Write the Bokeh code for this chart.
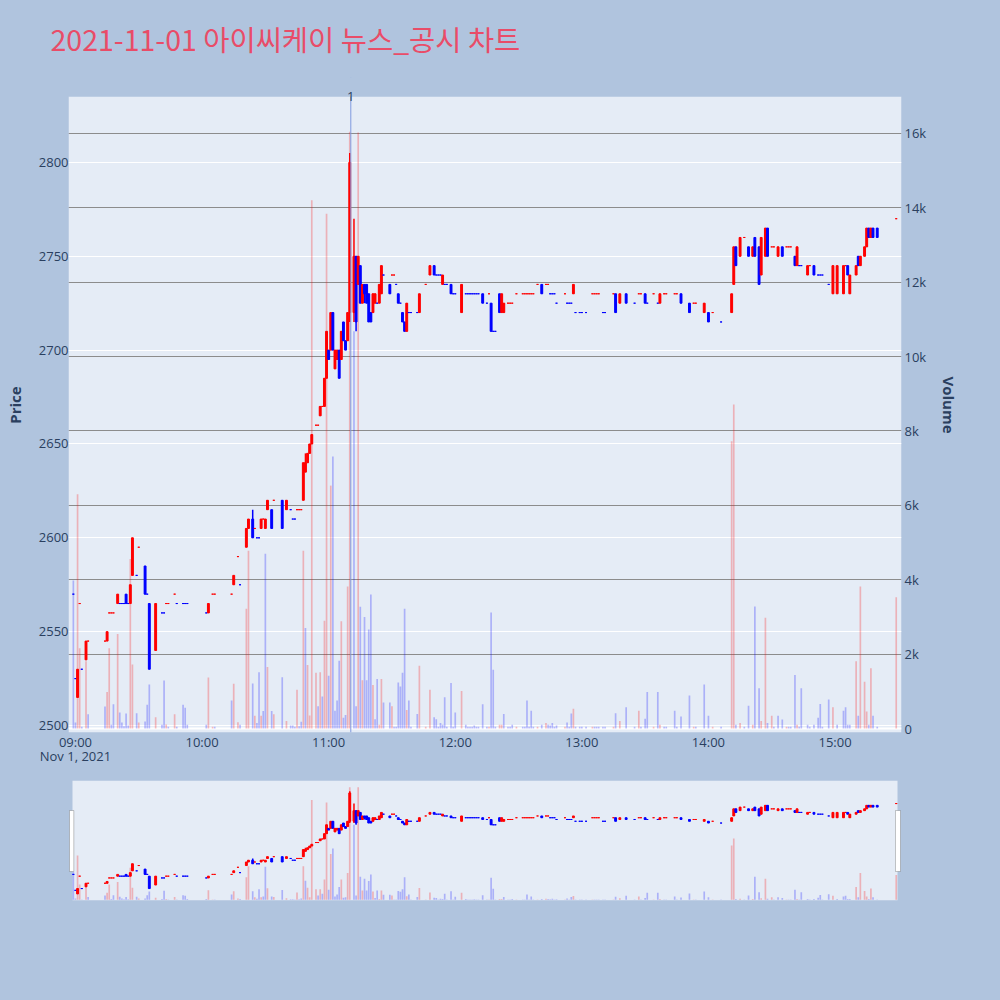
import pandas as pd
from bokeh.plotting import figure
from bokeh.models import (ColumnDataSource, Range1d, LinearAxis, FixedTicker, Grid,
                          Span, Label, BoxAnnotation, GlobalInlineStyleSheet)
from bokeh.layouts import column
from bokeh.embed import file_html
from bokeh.resources import INLINE

# ---------------- data ----------------
DATE = "2021-11-01"
TITLE = "2021-11-01 아이씨케이 뉴스_공시 차트"
DATE_LABEL = "Nov 1, 2021"
NEWS_TIME = "11:10:30"
NEWS_LABEL = "1"

x_tick_labels = ["09:00", "10:00", "11:00", "12:00", "13:00", "14:00", "15:00"]
price_ticks = [2500, 2550, 2600, 2650, 2700, 2750, 2800]
volume_ticks = [0, 2000, 4000, 6000, 8000, 10000, 12000, 14000, 16000]
volume_tick_labels = ["0", "2k", "4k", "6k", "8k", "10k", "12k", "14k", "16k"]

time = [
    "08:59", "09:00", "09:01", "09:02", "09:03", "09:05", "09:06", "09:14", "09:15", "09:16",
    "09:17", "09:18", "09:20", "09:21", "09:22", "09:23", "09:24", "09:25", "09:26", "09:27",
    "09:29", "09:30", "09:33", "09:34", "09:35", "09:38", "09:41", "09:42", "09:43", "09:44",
    "09:47", "09:48", "09:51", "09:52", "09:53", "10:02", "10:03", "10:05", "10:06", "10:14",
    "10:15", "10:17", "10:18", "10:21", "10:22", "10:24", "10:25", "10:26", "10:27", "10:28",
    "10:29", "10:30", "10:31", "10:33", "10:34", "10:38", "10:40", "10:42", "10:43", "10:44",
    "10:45", "10:46", "10:47", "10:48", "10:49", "10:50", "10:51", "10:52", "10:54", "10:55",
    "10:56", "10:57", "10:58", "10:59", "11:00", "11:01", "11:02", "11:03", "11:04", "11:05",
    "11:06", "11:07", "11:08", "11:09", "11:10", "11:12", "11:13", "11:14", "11:15", "11:16",
    "11:17", "11:18", "11:19", "11:20", "11:21", "11:22", "11:23", "11:24", "11:25", "11:26",
    "11:29", "11:30", "11:31", "11:32", "11:33", "11:34", "11:35", "11:36", "11:37", "11:38",
    "11:39", "11:42", "11:43", "11:46", "11:48", "11:50", "11:51", "11:52", "11:53", "11:54",
    "11:55", "11:56", "11:58", "11:59", "12:00", "12:03", "12:05", "12:06", "12:07", "12:08",
    "12:09", "12:10", "12:11", "12:13", "12:15", "12:16", "12:17", "12:18", "12:19", "12:21",
    "12:22", "12:23", "12:25", "12:26", "12:27", "12:29", "12:32", "12:33", "12:34", "12:35",
    "12:36", "12:37", "12:39", "12:41", "12:43", "12:44", "12:45", "12:46", "12:47", "12:48",
    "12:52", "12:53", "12:54", "12:55", "12:56", "12:57", "12:59", "13:00", "13:02", "13:05",
    "13:06", "13:07", "13:08", "13:10", "13:11", "13:15", "13:16", "13:18", "13:21", "13:25",
    "13:27", "13:28", "13:30", "13:31", "13:34", "13:36", "13:37", "13:39", "13:40", "13:44",
    "13:45", "13:47", "13:51", "13:53", "13:54", "13:58", "14:00", "14:02", "14:06", "14:11",
    "14:12", "14:13", "14:15", "14:17", "14:19", "14:21", "14:22", "14:24", "14:25", "14:27",
    "14:28", "14:30", "14:31", "14:33", "14:35", "14:37", "14:38", "14:39", "14:41", "14:42",
    "14:43", "14:44", "14:47", "14:48", "14:50", "14:52", "14:53", "14:54", "14:57", "14:59",
    "15:01", "15:04", "15:05", "15:06", "15:07", "15:10", "15:11", "15:12", "15:14", "15:15",
    "15:16", "15:17", "15:18", "15:20", "15:29",
]
open_ = [
    2570, 2525, 2515, 2565, 2530, 2535, 2545, 2545, 2545, 2560,
    2560, 2560, 2565, 2565, 2565, 2565, 2570, 2565, 2565, 2580,
    2580, 2595, 2585, 2570, 2565, 2540, 2560, 2560, 2565, 2565,
    2570, 2565, 2565, 2565, 2565, 2560, 2560, 2570, 2570, 2570,
    2575, 2590, 2575, 2595, 2605, 2610, 2605, 2600, 2600, 2605,
    2610, 2605, 2615, 2615, 2620, 2620, 2615, 2615, 2610, 2610,
    2615, 2615, 2615, 2620, 2635, 2640, 2645, 2650, 2660, 2660,
    2665, 2670, 2670, 2685, 2700, 2700, 2720, 2690, 2695, 2700,
    2695, 2715, 2705, 2705, 2720, 2720, 2750, 2735, 2745, 2725,
    2735, 2735, 2730, 2720, 2720, 2725, 2725, 2725, 2730, 2740,
    2735, 2740, 2740, 2735, 2730, 2725, 2720, 2715, 2710, 2720,
    2720, 2720, 2720, 2735, 2740, 2745, 2740, 2740, 2740, 2735,
    2735, 2735, 2735, 2730, 2730, 2720, 2730, 2730, 2730, 2730,
    2730, 2730, 2730, 2730, 2725, 2730, 2725, 2710, 2710, 2730,
    2720, 2720, 2725, 2725, 2725, 2730, 2730, 2730, 2730, 2730,
    2730, 2730, 2735, 2735, 2735, 2735, 2730, 2730, 2730, 2725,
    2730, 2725, 2725, 2725, 2730, 2720, 2720, 2720, 2720, 2730,
    2730, 2730, 2730, 2720, 2720, 2730, 2730, 2725, 2730, 2725,
    2730, 2730, 2730, 2725, 2730, 2725, 2725, 2730, 2730, 2730,
    2730, 2730, 2725, 2725, 2725, 2720, 2720, 2720, 2715, 2720,
    2735, 2755, 2750, 2760, 2755, 2750, 2760, 2755, 2740, 2750,
    2765, 2755, 2755, 2750, 2755, 2755, 2755, 2755, 2750, 2745,
    2745, 2745, 2740, 2745, 2745, 2740, 2740, 2740, 2735, 2730,
    2730, 2730, 2745, 2745, 2730, 2740, 2750, 2745, 2750, 2755,
    2765, 2760, 2765, 2765, 2770,
]
high = [
    2570, 2525, 2530, 2565, 2530, 2545, 2545, 2545, 2550, 2560,
    2560, 2560, 2570, 2565, 2565, 2565, 2570, 2565, 2575, 2600,
    2580, 2595, 2585, 2570, 2565, 2565, 2560, 2560, 2565, 2565,
    2570, 2565, 2565, 2565, 2565, 2560, 2565, 2570, 2570, 2570,
    2580, 2590, 2575, 2605, 2610, 2615, 2605, 2600, 2600, 2610,
    2610, 2610, 2620, 2615, 2620, 2620, 2620, 2615, 2610, 2610,
    2615, 2615, 2615, 2640, 2645, 2645, 2650, 2655, 2660, 2660,
    2670, 2670, 2685, 2710, 2700, 2720, 2720, 2700, 2700, 2700,
    2710, 2715, 2705, 2720, 2805, 2770, 2750, 2750, 2745, 2735,
    2735, 2735, 2730, 2720, 2730, 2730, 2725, 2735, 2745, 2740,
    2735, 2740, 2740, 2735, 2730, 2725, 2720, 2715, 2725, 2720,
    2720, 2720, 2730, 2735, 2745, 2745, 2740, 2740, 2740, 2740,
    2735, 2735, 2735, 2730, 2730, 2735, 2730, 2730, 2730, 2730,
    2730, 2730, 2730, 2730, 2725, 2730, 2725, 2710, 2710, 2730,
    2730, 2725, 2725, 2725, 2725, 2730, 2730, 2730, 2730, 2730,
    2730, 2730, 2735, 2735, 2735, 2735, 2730, 2730, 2730, 2725,
    2730, 2725, 2725, 2725, 2735, 2720, 2720, 2720, 2720, 2730,
    2730, 2730, 2730, 2720, 2720, 2730, 2730, 2730, 2730, 2725,
    2730, 2730, 2730, 2725, 2730, 2725, 2730, 2730, 2730, 2730,
    2730, 2730, 2725, 2725, 2725, 2725, 2720, 2720, 2715, 2730,
    2755, 2755, 2760, 2760, 2755, 2755, 2760, 2755, 2760, 2765,
    2765, 2755, 2755, 2755, 2755, 2755, 2755, 2755, 2750, 2755,
    2745, 2745, 2745, 2745, 2745, 2740, 2740, 2740, 2735, 2745,
    2745, 2745, 2745, 2745, 2740, 2745, 2750, 2750, 2755, 2765,
    2765, 2765, 2765, 2765, 2770,
]
low = [
    2570, 2525, 2515, 2565, 2530, 2535, 2545, 2545, 2545, 2560,
    2560, 2560, 2565, 2565, 2565, 2565, 2565, 2565, 2565, 2580,
    2580, 2595, 2570, 2570, 2530, 2540, 2560, 2560, 2565, 2565,
    2570, 2565, 2565, 2565, 2565, 2560, 2560, 2570, 2570, 2570,
    2575, 2590, 2575, 2595, 2605, 2600, 2605, 2600, 2600, 2605,
    2610, 2605, 2615, 2605, 2620, 2605, 2615, 2615, 2610, 2610,
    2615, 2615, 2615, 2620, 2635, 2640, 2645, 2650, 2660, 2660,
    2665, 2670, 2670, 2685, 2695, 2700, 2700, 2690, 2695, 2685,
    2695, 2705, 2700, 2705, 2715, 2715, 2710, 2735, 2725, 2725,
    2725, 2725, 2715, 2715, 2720, 2725, 2725, 2725, 2730, 2740,
    2730, 2740, 2740, 2735, 2725, 2725, 2715, 2710, 2710, 2720,
    2720, 2720, 2720, 2735, 2740, 2740, 2740, 2740, 2740, 2735,
    2735, 2735, 2730, 2730, 2730, 2720, 2730, 2730, 2730, 2730,
    2730, 2730, 2730, 2725, 2725, 2730, 2710, 2710, 2710, 2720,
    2720, 2720, 2725, 2725, 2725, 2730, 2730, 2730, 2730, 2730,
    2730, 2730, 2735, 2730, 2735, 2735, 2730, 2730, 2730, 2725,
    2730, 2725, 2725, 2725, 2730, 2720, 2720, 2720, 2720, 2730,
    2730, 2730, 2730, 2720, 2720, 2730, 2720, 2725, 2725, 2725,
    2730, 2730, 2725, 2725, 2730, 2725, 2725, 2730, 2730, 2730,
    2730, 2725, 2720, 2725, 2725, 2720, 2715, 2720, 2715, 2720,
    2735, 2745, 2750, 2760, 2750, 2750, 2750, 2735, 2740, 2750,
    2750, 2755, 2755, 2750, 2750, 2755, 2755, 2755, 2745, 2745,
    2745, 2745, 2740, 2745, 2740, 2740, 2740, 2740, 2735, 2730,
    2730, 2730, 2745, 2740, 2730, 2740, 2745, 2745, 2750, 2755,
    2760, 2760, 2760, 2760, 2770,
]
close = [
    2570, 2525, 2530, 2565, 2530, 2545, 2545, 2545, 2550, 2560,
    2560, 2560, 2570, 2565, 2565, 2565, 2565, 2565, 2575, 2600,
    2580, 2595, 2570, 2570, 2530, 2565, 2560, 2560, 2565, 2565,
    2570, 2565, 2565, 2565, 2565, 2560, 2565, 2570, 2570, 2570,
    2580, 2590, 2575, 2605, 2610, 2600, 2605, 2600, 2600, 2610,
    2610, 2610, 2620, 2605, 2620, 2605, 2620, 2615, 2610, 2610,
    2615, 2615, 2615, 2640, 2640, 2645, 2650, 2655, 2660, 2660,
    2670, 2670, 2685, 2710, 2695, 2720, 2700, 2700, 2700, 2685,
    2710, 2705, 2700, 2720, 2800, 2750, 2715, 2750, 2725, 2735,
    2730, 2725, 2715, 2715, 2730, 2730, 2725, 2735, 2745, 2740,
    2730, 2740, 2740, 2735, 2725, 2725, 2715, 2710, 2725, 2720,
    2720, 2720, 2730, 2735, 2745, 2740, 2740, 2740, 2740, 2740,
    2735, 2735, 2730, 2730, 2730, 2735, 2730, 2730, 2730, 2730,
    2730, 2730, 2730, 2725, 2725, 2730, 2710, 2710, 2710, 2720,
    2730, 2725, 2725, 2725, 2725, 2730, 2730, 2730, 2730, 2730,
    2730, 2730, 2735, 2730, 2735, 2735, 2730, 2730, 2730, 2725,
    2730, 2725, 2725, 2725, 2735, 2720, 2720, 2720, 2720, 2730,
    2730, 2730, 2730, 2720, 2720, 2730, 2720, 2730, 2725, 2725,
    2730, 2730, 2725, 2725, 2730, 2725, 2730, 2730, 2730, 2730,
    2730, 2725, 2720, 2725, 2725, 2725, 2715, 2720, 2715, 2730,
    2755, 2745, 2760, 2760, 2750, 2755, 2750, 2735, 2760, 2765,
    2750, 2755, 2755, 2755, 2750, 2755, 2755, 2755, 2745, 2755,
    2745, 2745, 2745, 2745, 2740, 2740, 2740, 2740, 2735, 2745,
    2745, 2745, 2745, 2740, 2740, 2745, 2745, 2750, 2755, 2765,
    2760, 2765, 2760, 2760, 2770,
]
volume = [
    3980, 160, 6300, 2160, 50, 1810, 380, 590, 980, 2160,
    100, 650, 2540, 430, 160, 60, 400, 80, 4560, 1720,
    410, 160, 190, 640, 1180, 300, 100, 1290, 110, 50,
    380, 50, 640, 560, 100, 100, 1370, 50, 50, 750,
    1200, 170, 100, 3220, 4780, 1210, 340, 150, 1510, 340,
    470, 4700, 1650, 470, 380, 1380, 200, 80, 80, 50,
    1040, 60, 180, 4780, 2700, 1710, 350, 14200, 1500, 600,
    1510, 860, 2900, 13840, 1420, 6530, 7310, 480, 750, 1820,
    2880, 290, 360, 3820, 16040, 10680, 600, 16020, 3270, 1300,
    3000, 1300, 2660, 3600, 1170, 250, 1330, 100, 1330, 700,
    700, 600, 50, 50, 1240, 1130, 1500, 3220, 500, 750,
    50, 390, 1690, 50, 1040, 300, 250, 50, 150, 100,
    840, 50, 1220, 50, 430, 1010, 100, 50, 50, 50,
    80, 50, 50, 650, 50, 50, 3120, 1580, 50, 100,
    100, 390, 50, 50, 100, 50, 50, 50, 750, 50,
    480, 50, 50, 100, 150, 100, 80, 150, 50, 80,
    50, 160, 50, 400, 530, 50, 50, 50, 50, 50,
    50, 50, 50, 50, 50, 50, 410, 200, 570, 50,
    480, 50, 260, 980, 50, 980, 100, 50, 50, 480,
    50, 320, 890, 50, 50, 1180, 340, 50, 50, 7720,
    8710, 100, 150, 50, 610, 100, 3280, 1080, 200, 2980,
    150, 340, 50, 340, 240, 50, 50, 50, 1440, 100,
    50, 1080, 100, 50, 100, 290, 660, 50, 780, 570,
    100, 480, 570, 100, 100, 1810, 340, 3820, 1260, 460,
    100, 1620, 340, 50, 3530,
]

# ---------------- derived ----------------
RED, BLUE = "#FF0000", "#0000FF"
MIN_MS = 60_000

def to_ms(hhmm):
    return int(pd.Timestamp(f"{DATE} {hhmm}").value // 10**6)

xs = [to_ms(t) for t in time]
candle_col, vol_col = [], []
prev_c, prev_col = None, BLUE
for o, c in zip(open_, close):
    if c > o:
        col = RED
    elif c < o:
        col = BLUE
    elif prev_c is None or c < prev_c:
        col = BLUE
    elif c > prev_c:
        col = RED
    else:
        col = prev_col
    vol_col.append(RED if (prev_c is not None and c > prev_c) else BLUE)
    candle_col.append(col)
    prev_c, prev_col = c, col

src = ColumnDataSource(dict(
    x=xs, o=open_, h=high, l=low, c=close, v=volume,
    top=[max(a, b) for a, b in zip(open_, close)],
    bot=[min(a, b) for a, b in zip(open_, close)],
    col=candle_col, vcol=vol_col,
))

t0 = to_ms("09:00")
X0, X1 = t0 - 3.3 * MIN_MS, t0 + 391.5 * MIN_MS
Y0, Y1 = 2496.3, 2835.1          # visible plotting area
V0, V1 = -107.5, 16990
EXTRA = 19                         # px strip above the plot area (holds the news label)
PY = (Y1 - Y0) / 636
PV = (V1 - V0) / 636
FRAME_W = 833
PX_MS = (X1 - X0) / FRAME_W

BG = "#B0C4DE"
PLOT_BG = "#E5ECF6"
TXT = "#2a3f5f"
FONT = "Open Sans"

xrange = Range1d(X0, X1)

# ---------------- main figure ----------------
p = figure(x_axis_type="datetime", frame_width=FRAME_W, frame_height=636 + EXTRA,
           x_range=xrange, y_range=Range1d(Y0, Y1 + EXTRA * PY),
           output_backend="svg", toolbar_location=None, tools="",
           min_border_left=68, min_border_right=99, min_border_top=96 - EXTRA,
           min_border_bottom=48,
           background_fill_color=BG, border_fill_color=BG, outline_line_color=None)
p.extra_y_ranges = {"vol": Range1d(V0, V1 + EXTRA * PV)}

# plotting-area background (below the label strip), drawn before the grids
plot_bg = BoxAnnotation(top=Y1, fill_color=PLOT_BG, fill_alpha=1, line_color=None,
                        level="underlay")
p.center = [plot_bg] + list(p.center)

def draw(fig):
    fig.vbar(x="x", top="v", bottom=0, width=0.8 * MIN_MS, source=src, y_range_name="vol",
             fill_color="vcol", fill_alpha=0.25, line_color=None)
    fig.segment(x0="x", y0="l", x1="x", y1="h", source=src, line_color="col", line_width=1.5)
    fig.vbar(x="x", top="top", bottom="bot", width=0.9 * MIN_MS, source=src,
             fill_color="col", line_color="col", line_width=1)

p.xgrid.visible = False
pt = FixedTicker(ticks=price_ticks)
p.yaxis.ticker = pt
p.ygrid.ticker = pt
p.ygrid.grid_line_color = "white"
p.ygrid.grid_line_width = 1

vgrid = Grid(dimension=1, ticker=FixedTicker(ticks=volume_ticks[1:]), y_range_name="vol",
             grid_line_color="#8c8c8c", grid_line_width=1)
p.add_layout(vgrid)
p.add_layout(Span(location=0, dimension="width", y_range_name="vol",
                  line_color="white", line_width=2, level="underlay"))

draw(p)

p.add_layout(Span(location=to_ms(NEWS_TIME), dimension="height",
                  line_color="#7f9be0", line_width=1))
# strip above the plotting area painted in the page colour (hides the span there)
p.add_layout(BoxAnnotation(bottom=Y1, top=Y1 + 3 * EXTRA * PY,
                           left=X0 - 10 * PX_MS, right=X1 + 10 * PX_MS,
                           fill_color=BG, fill_alpha=1, line_color=None))
p.add_layout(Label(x=to_ms(NEWS_TIME), y=Y1, text=NEWS_LABEL, text_align="center",
                   text_baseline="middle", text_font=FONT, text_font_size="13px",
                   text_color=TXT))

vax = LinearAxis(y_range_name="vol", ticker=FixedTicker(ticks=volume_ticks),
                 major_label_overrides=dict(zip(volume_ticks, volume_tick_labels)),
                 axis_label="Volume")
p.add_layout(vax, "right")

xt = [to_ms(t) for t in x_tick_labels]
p.xaxis.ticker = FixedTicker(ticks=xt)
overrides = dict(zip(xt, x_tick_labels))
overrides[xt[0]] = x_tick_labels[0] + "\n" + DATE_LABEL
p.xaxis.major_label_overrides = overrides

p.yaxis[0].axis_label = "Price"
for ax in p.axis:
    ax.axis_line_color = None
    ax.major_tick_line_color = None
    ax.minor_tick_line_color = None
    ax.major_tick_out = 0
    ax.major_tick_in = 0
    ax.major_label_standoff = 3
    ax.major_label_text_font = FONT
    ax.major_label_text_font_size = "13px"
    ax.major_label_text_color = TXT
    ax.axis_label_text_font = FONT
    ax.axis_label_text_font_size = "15px"
    ax.axis_label_text_font_style = "bold"
    ax.axis_label_text_color = TXT
p.yaxis[0].major_label_standoff = 0
p.yaxis[0].axis_label_standoff = 11
vax.axis_label_standoff = 10
p.xaxis.major_label_standoff = 0
p.xaxis.major_label_text_line_height = 0.8

p.title.text = TITLE
p.title.text_font = "Noto Sans CJK KR"
p.title.text_font_size = "28.5px"
p.title.text_font_style = "normal"
p.title.text_color = "#E94C68"
p.title.align = "left"
p.title.vertical_align = "top"
p.title.offset = -18
p.title.standoff = 33

# ---------------- range slider ----------------
s = figure(x_axis_type="datetime", frame_width=FRAME_W, frame_height=120,
           x_range=xrange, y_range=Range1d(Y0, Y1),
           output_backend="svg", toolbar_location=None, tools="",
           min_border_left=68, min_border_right=99, min_border_top=0, min_border_bottom=100,
           background_fill_color=BG, border_fill_color=BG, outline_line_color=None)
s.extra_y_ranges = {"vol": Range1d(V0, V1)}
s.axis.visible = False
s.grid.visible = False
s.add_layout(BoxAnnotation(left=X0 + 4 * PX_MS, right=X0 + 829 * PX_MS,
                           fill_color=PLOT_BG, fill_alpha=1, line_color=None, level="underlay"))
draw(s)
yppx = (Y1 - Y0) / 120
for a, b in ((1, 5.3), (827, 832)):
    s.add_layout(BoxAnnotation(left=X0 + a * PX_MS, right=X0 + b * PX_MS,
                               top=Y1 - 30 * yppx, bottom=Y1 - 91 * yppx,
                               fill_color="white", fill_alpha=1, line_color="#444444",
                               line_width=1, level="overlay"))

layout = column(p, s, stylesheets=[GlobalInlineStyleSheet(css="body { background-color: #B0C4DE; }")])

open("out.html", "w").write(file_html(layout, INLINE))
